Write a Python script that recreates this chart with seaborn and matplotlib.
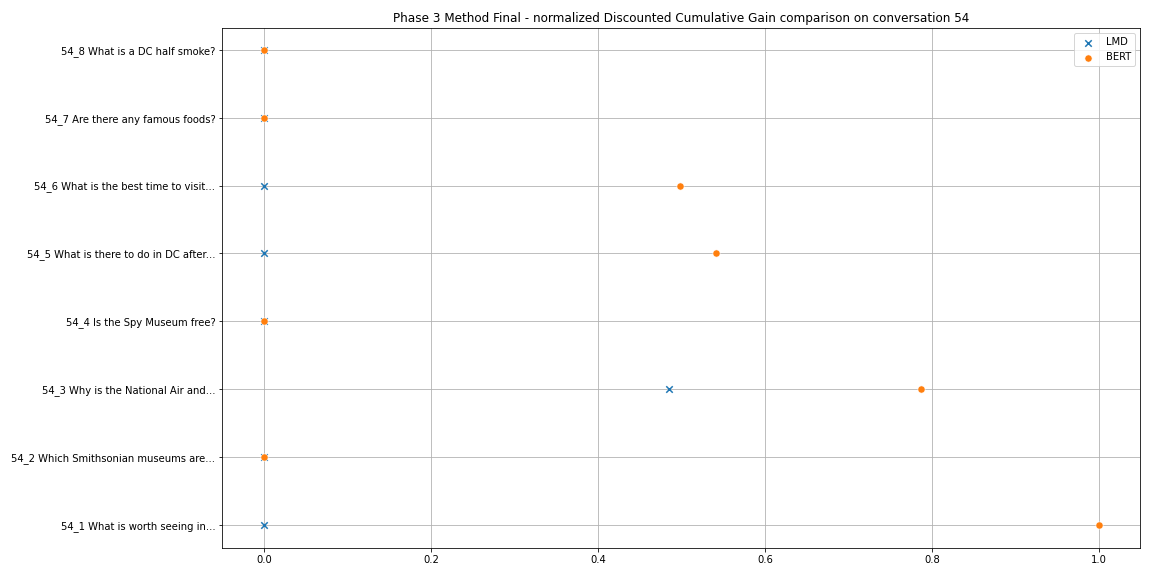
import numpy as np
import matplotlib
matplotlib.use("Agg")
import matplotlib.pyplot as plt
import pandas as pd
import seaborn as sns

# turns of conversation 54 (bottom to top)
questions = ['54_1 What is worth seeing in...',
             '54_2 Which Smithsonian museums are...',
             '54_3 Why is the National Air and...',
             '54_4 Is the Spy Museum free?',
             '54_5 What is there to do in DC after...',
             '54_6 What is the best time to visit...',
             '54_7 Are there any famous foods?',
             '54_8 What is a DC half smoke?']
lmd_ndcg = [0.0, 0.0, 0.485, 0.0, 0.0, 0.0, 0.0, 0.0]
bert_ndcg = [1.0, 0.0, 0.787, 0.0, 0.541, 0.498, 0.0, 0.0]

df = pd.DataFrame({'question': questions, 'LMD': lmd_ndcg, 'BERT': bert_ndcg})

fig, ax = plt.subplots(figsize=(16, 8), dpi=72)
sns.scatterplot(data=df, x='LMD', y='question', marker='x', color='#1f77b4',
                label='LMD', ax=ax, s=42, linewidth=1.5)
sns.scatterplot(data=df, x='BERT', y='question', marker='o', color='#ff7f0e',
                label='BERT', ax=ax, s=52)
# seaborn flips categorical y; put first turn at the bottom
ax.set_ylim(-0.34, len(questions) - 1 + 0.32)
ax.grid(True)
ax.set_axisbelow(True)
ax.set_xlabel('')
ax.set_ylabel('')
ax.set_title('Phase 3 Method Final - normalized Discounted Cumulative Gain comparison on conversation 54')
ax.legend(loc='upper right')
plt.subplots_adjust(left=0.193, right=0.990, top=0.951, bottom=0.049)
plt.savefig('out.png')
